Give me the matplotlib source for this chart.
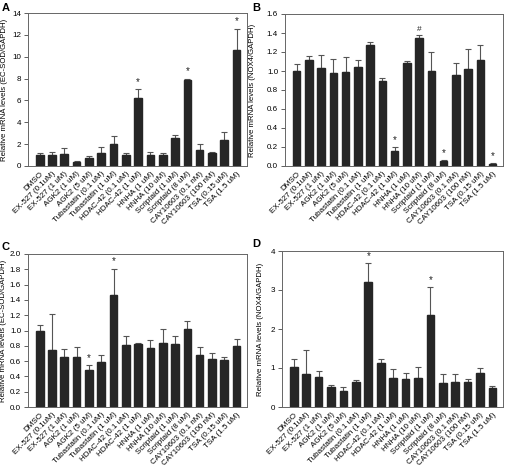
import matplotlib
matplotlib.use("Agg")
import matplotlib.pyplot as plt
import numpy as np

plt.rcParams['font.family'] = ['Liberation Sans', 'DejaVu Sans']

labels_ab = ["DMSO", "EX-527 (0.1uM)", "EX-527 (1 uM)", "AGK2 (1 uM)", "AGK2 (5 uM)",
             "Tubastatin (0.1 uM)", "Tubastatin (1 uM)", "HDAC-42 (0.1 uM)", "HDAC-42 (1 uM)",
             "HNHA (1 uM)", "HNHA (10 uM)", "Scriptaid (1 uM)", "Scriptaid (8 uM)",
             "CAY10603 (0.1 nM)", "CAY10603 (100 nM)", "TSA (0.15 uM)", "TSA (1.5 uM)"]
labels_cd = labels_ab

a_vals = [1.0, 1.05, 1.1, 0.4, 0.75, 1.2, 2.05, 1.0, 6.25, 1.05, 1.0, 2.55, 7.9, 1.5, 1.2, 2.35, 10.65]
a_err = [0.2, 0.2, 0.55, 0.1, 0.2, 0.5, 0.65, 0.15, 0.75, 0.2, 0.15, 0.25, 0.1, 0.5, 0.1, 0.75, 1.9]
a_mark = ["", "", "", "", "", "", "", "", "*", "", "", "", "*", "", "", "", "*"]

b_vals = [1.0, 1.12, 1.03, 0.98, 0.99, 1.04, 1.27, 0.89, 0.16, 1.08, 1.35, 1.0, 0.05, 0.96, 1.02, 1.12, 0.02]
b_err = [0.07, 0.04, 0.14, 0.15, 0.16, 0.08, 0.03, 0.04, 0.04, 0.02, 0.03, 0.2, 0.01, 0.12, 0.21, 0.15, 0.01]
b_mark = ["", "", "", "", "", "", "", "", "*", "", "#", "", "*", "", "", "", "*"]

c_vals = [1.0, 0.74, 0.65, 0.65, 0.49, 0.59, 1.46, 0.81, 0.82, 0.77, 0.84, 0.82, 1.02, 0.68, 0.63, 0.61, 0.80]
c_err = [0.07, 0.47, 0.11, 0.13, 0.06, 0.09, 0.35, 0.12, 0.02, 0.10, 0.18, 0.11, 0.10, 0.11, 0.08, 0.05, 0.09]
c_mark = ["", "", "", "", "*", "", "*", "", "", "", "", "", "", "", "", "", ""]

d_vals = [1.02, 0.84, 0.78, 0.51, 0.40, 0.65, 3.2, 1.12, 0.75, 0.72, 0.74, 2.35, 0.62, 0.63, 0.65, 0.87, 0.48]
d_err = [0.2, 0.62, 0.14, 0.05, 0.11, 0.04, 0.48, 0.10, 0.22, 0.16, 0.29, 0.72, 0.22, 0.21, 0.08, 0.14, 0.05]
d_mark = ["", "", "", "", "", "", "*", "", "", "", "", "*", "", "", "", "", ""]

W, H = 505, 471
fig = plt.figure(figsize=(W / 100, H / 100), dpi=100)

def ax_rect(l, t, r, b):
    return [l / W, 1 - b / H, (r - l) / W, (b - t) / H]

panels = [
    ("A", ax_rect(28, 13, 247, 166), a_vals, a_err, a_mark, labels_ab, (0, 14), np.arange(0, 15, 2),
     [f"{v:d}" for v in range(0, 15, 2)], "Relative mRNA levels (EC-SOD/GAPDH)", (2, 3), 8),
    ("B", ax_rect(285, 14, 503, 166), b_vals, b_err, b_mark, labels_ab, (0, 1.6), np.arange(0, 1.61, 0.2),
     [f"{v:.1f}" for v in np.arange(0, 1.61, 0.2)], "Relative mRNA levels (NOX4/GAPDH)", (252, 3), 256),
    ("C", ax_rect(28, 254, 247, 407), c_vals, c_err, c_mark, labels_cd, (0, 2.0), np.arange(0, 2.01, 0.2),
     [f"{v:.1f}" for v in np.arange(0, 2.01, 0.2)], "Relative mRNA levels (EC-SOD/GAPDH)", (2, 242), 7),
    ("D", ax_rect(282, 251, 503, 407), d_vals, d_err, d_mark, labels_cd, (0, 4), np.arange(0, 5, 1),
     [f"{v:d}" for v in range(0, 5)], "Relative mRNA levels (NOX4/GAPDH)", (252, 239), 264),
]

for letter, rect, vals, errs, marks, labels, ylim, yt, ytl, ylabel, lpos, ylx in panels:
    ax = fig.add_axes(rect)
    x = np.arange(len(vals))
    ax.bar(x, vals, width=0.62, color="#262626", edgecolor="#262626", zorder=2)
    ax.errorbar(x, vals, yerr=[np.zeros(len(vals)), errs], fmt="none", ecolor="#555555",
                elinewidth=0.8, capsize=2.5, capthick=0.8, zorder=1)
    span = ylim[1] - ylim[0]
    for xi, v, e, m in zip(x, vals, errs, marks):
        if m:
            ax.text(xi, v + e + span * 0.015, m, ha="center", va="bottom",
                    fontsize=6 if m == "#" else 7, color="#222222")
    ax.set_xlim(-0.95, len(vals) - 0.15)
    ax.set_ylim(*ylim)
    ax.set_yticks(yt)
    ax.set_yticklabels(ytl)
    ax.set_xticks(x)
    ax.set_xticklabels(labels, rotation=45, ha="right", rotation_mode="anchor", fontsize=5.8)
    ax.tick_params(axis="x", length=0, pad=3)
    ax.tick_params(axis="y", labelsize=5.8, length=3, width=0.6, color="#444444", pad=2)
    for s in ax.spines.values():
        s.set_color("#666666")
        s.set_linewidth(0.7)
    ax.set_ylabel(ylabel, fontsize=5.6)
    ax.yaxis.set_label_coords((ylx - rect[0] * W) / (rect[2] * W), 0.5)
    fig.text(lpos[0] / W, 1 - lpos[1] / H, letter, fontsize=8, fontweight="bold", va="top", ha="left")

fig.savefig("out.png", dpi=100)
